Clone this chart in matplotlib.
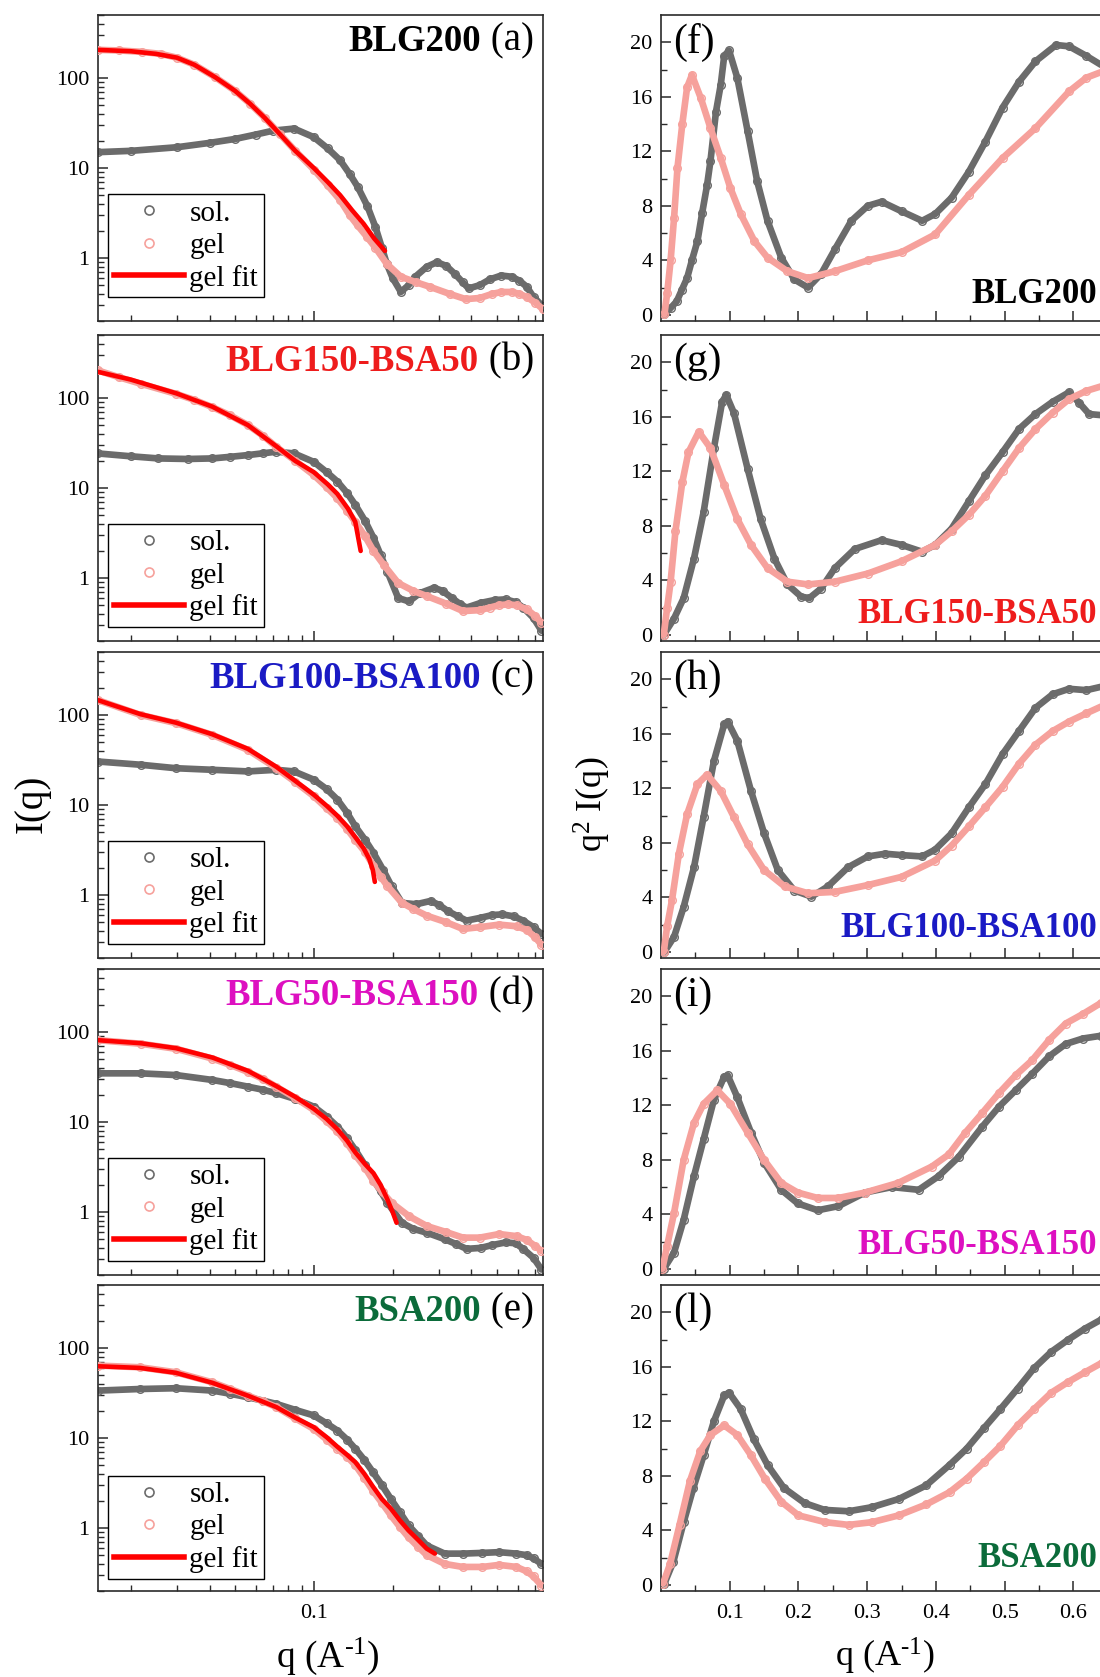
import matplotlib
matplotlib.use('Agg')
import matplotlib.pyplot as plt
from matplotlib.lines import Line2D
from matplotlib.offsetbox import TextArea, HPacker, AnchoredOffsetbox
from matplotlib.ticker import FixedLocator, LogLocator, NullFormatter, FuncFormatter
import matplotlib.transforms as mtrans

plt.rcParams['font.family'] = ['Liberation Serif', 'DejaVu Serif']
plt.rcParams['mathtext.fontset'] = 'custom'
plt.rcParams['mathtext.rm'] = 'Liberation Serif'
plt.rcParams['mathtext.it'] = 'Liberation Serif:italic'
plt.rcParams['mathtext.bf'] = 'Liberation Serif:bold'

# ---------------- labels ----------------
samples = ['BLG200', 'BLG150-BSA50', 'BLG100-BSA100', 'BLG50-BSA150', 'BSA200']
sample_colors = ['#000000', '#ee1c1c', '#1a1ac4', '#dd10c0', '#0b6b3a']
left_letters = ['(a)', '(b)', '(c)', '(d)', '(e)']
right_letters = ['(f)', '(g)', '(h)', '(i)', '(l)']
legend_labels = ['sol.', 'gel', 'gel fit']

# ---------------- left panels: I(q) ----------------
sol_a_q = [0.015, 0.02, 0.03, 0.04, 0.05, 0.06, 0.07, 0.084, 0.1, 0.113, 0.126, 0.137, 0.147, 0.16, 0.172, 0.182, 0.19, 0.2, 0.215, 0.23, 0.244, 0.27, 0.295, 0.32, 0.345, 0.37, 0.39, 0.43, 0.47, 0.52, 0.57, 0.61, 0.65, 0.69, 0.75]
sol_a_I = [15, 15.5, 17, 19, 21, 23.5, 26, 27.4, 22, 16.5, 12.2, 8.6, 6.2, 3.8, 2.2, 1.3, 0.86, 0.6, 0.42, 0.5, 0.62, 0.8, 0.9, 0.82, 0.67, 0.54, 0.46, 0.5, 0.58, 0.64, 0.62, 0.56, 0.48, 0.37, 0.29]
gel_a_q = [0.015, 0.018, 0.022, 0.026, 0.03, 0.035, 0.042, 0.05, 0.057, 0.065, 0.074, 0.085, 0.1, 0.113, 0.126, 0.137, 0.147, 0.16, 0.172, 0.19, 0.215, 0.245, 0.277, 0.33, 0.38, 0.43, 0.48, 0.52, 0.57, 0.61, 0.65, 0.7, 0.75]
gel_a_I = [205, 202, 195, 185, 168, 140, 102, 72, 52, 36, 24, 15.5, 9.6, 6.4, 4.4, 3.0, 2.3, 1.7, 1.3, 0.86, 0.62, 0.54, 0.48, 0.40, 0.35, 0.36, 0.40, 0.42, 0.42, 0.40, 0.37, 0.32, 0.27]
fit_a_q = [0.015, 0.02, 0.025, 0.03, 0.035, 0.042, 0.05, 0.057, 0.065, 0.074, 0.085, 0.1, 0.113, 0.126, 0.14, 0.155, 0.17, 0.187]
fit_a_I = [205, 198, 185, 168, 140, 102, 72, 52, 36, 24, 15.5, 10, 7, 5.0, 3.4, 2.4, 1.65, 1.2]

sol_b_q = [0.015, 0.02, 0.0255, 0.033, 0.041, 0.048, 0.056, 0.064, 0.072, 0.084, 0.1, 0.112, 0.123, 0.134, 0.144, 0.157, 0.169, 0.18, 0.191, 0.21, 0.231, 0.254, 0.288, 0.31, 0.337, 0.36, 0.383, 0.434, 0.49, 0.54, 0.59, 0.63, 0.69, 0.74]
sol_b_I = [24.2, 22.5, 21.3, 21.0, 21.3, 22.2, 23.2, 24.3, 25.3, 24.2, 19.5, 15.0, 11.8, 8.8, 6.5, 4.3, 2.8, 1.8, 1.18, 0.6, 0.55, 0.68, 0.78, 0.72, 0.6, 0.52, 0.47, 0.53, 0.57, 0.58, 0.54, 0.47, 0.36, 0.26]
gel_b_q = [0.015, 0.018, 0.0218, 0.0298, 0.035, 0.041, 0.048, 0.056, 0.064, 0.072, 0.085, 0.1, 0.112, 0.123, 0.134, 0.144, 0.157, 0.169, 0.185, 0.21, 0.24, 0.27, 0.32, 0.371, 0.43, 0.47, 0.51, 0.55, 0.595, 0.65, 0.7, 0.74]
gel_b_I = [202, 170, 144, 111, 95, 79, 64, 50, 38, 28.6, 20, 13.9, 10.2, 7.7, 5.6, 4.2, 2.9, 2.0, 1.4, 0.88, 0.72, 0.63, 0.52, 0.43, 0.44, 0.47, 0.5, 0.51, 0.5, 0.45, 0.38, 0.32]
fit_b_q = [0.015, 0.02, 0.03, 0.041, 0.056, 0.072, 0.085, 0.1, 0.113, 0.123, 0.135, 0.144, 0.151]
fit_b_I = [195, 160, 112, 80, 50, 29, 20, 15, 11, 8.6, 5.9, 4.2, 2.0]

sol_c_q = [0.015, 0.0218, 0.0298, 0.041, 0.056, 0.072, 0.084, 0.1, 0.112, 0.123, 0.134, 0.144, 0.157, 0.169, 0.184, 0.198, 0.217, 0.246, 0.279, 0.3, 0.326, 0.355, 0.383, 0.434, 0.48, 0.525, 0.58, 0.63, 0.69, 0.74]
sol_c_I = [30.4, 28, 25.6, 24.6, 23.6, 24.6, 23.6, 19.1, 15, 11.5, 8.2, 5.8, 4.1, 2.94, 1.9, 1.26, 0.82, 0.79, 0.86, 0.78, 0.66, 0.58, 0.52, 0.56, 0.6, 0.61, 0.58, 0.52, 0.44, 0.37]
gel_c_q = [0.015, 0.0218, 0.0298, 0.041, 0.056, 0.072, 0.085, 0.1, 0.112, 0.123, 0.134, 0.144, 0.157, 0.169, 0.18, 0.191, 0.217, 0.24, 0.27, 0.32, 0.371, 0.43, 0.51, 0.595, 0.65, 0.7, 0.74]
gel_c_I = [146, 100, 81, 60, 41, 25.6, 18, 12.5, 9.2, 7.2, 5.4, 4.1, 3.0, 2.1, 1.6, 1.26, 0.82, 0.7, 0.59, 0.5, 0.42, 0.44, 0.47, 0.45, 0.41, 0.34, 0.28]
fit_c_q = [0.015, 0.0218, 0.0298, 0.041, 0.056, 0.072, 0.085, 0.1, 0.112, 0.123, 0.134, 0.144, 0.155, 0.163, 0.168, 0.171]
fit_c_I = [146, 102, 82, 61, 42, 26.5, 18.5, 13, 9.8, 7.6, 5.8, 4.4, 3.3, 2.5, 1.9, 1.4]

sol_d_q = [0.015, 0.0218, 0.0298, 0.041, 0.048, 0.056, 0.064, 0.072, 0.085, 0.1, 0.112, 0.123, 0.134, 0.144, 0.157, 0.169, 0.18, 0.191, 0.217, 0.24, 0.27, 0.316, 0.35, 0.383, 0.434, 0.48, 0.54, 0.59, 0.63, 0.69, 0.74]
sol_d_I = [34.7, 34.7, 33.2, 29.3, 27, 24.7, 22.8, 20.9, 18, 14.8, 11.5, 8.9, 6.6, 4.9, 3.3, 2.3, 1.7, 1.27, 0.76, 0.65, 0.59, 0.5, 0.44, 0.39, 0.4, 0.43, 0.46, 0.45, 0.39, 0.31, 0.23]
gel_d_q = [0.015, 0.0218, 0.0298, 0.041, 0.048, 0.056, 0.064, 0.072, 0.085, 0.1, 0.112, 0.123, 0.134, 0.144, 0.157, 0.169, 0.183, 0.198, 0.231, 0.27, 0.32, 0.371, 0.43, 0.51, 0.595, 0.65, 0.7, 0.74]
gel_d_I = [81, 74, 65, 50.6, 43, 36, 30, 24.6, 18.5, 13.6, 10.2, 7.9, 5.8, 4.3, 3.1, 2.2, 1.65, 1.27, 0.9, 0.7, 0.6, 0.52, 0.52, 0.57, 0.54, 0.49, 0.42, 0.37]
fit_d_q = [0.015, 0.0218, 0.0298, 0.041, 0.056, 0.072, 0.085, 0.1, 0.112, 0.123, 0.134, 0.144, 0.157, 0.169, 0.18, 0.191, 0.2, 0.207]
fit_d_I = [81, 75, 66, 52, 37, 25, 19, 14, 10.8, 8.3, 6.2, 4.6, 3.4, 2.7, 2.0, 1.38, 1.0, 0.76]

sol_e_q = [0.015, 0.0217, 0.0297, 0.041, 0.048, 0.056, 0.064, 0.072, 0.085, 0.1, 0.112, 0.123, 0.134, 0.144, 0.156, 0.168, 0.182, 0.197, 0.213, 0.23, 0.25, 0.27, 0.316, 0.37, 0.44, 0.51, 0.594, 0.65, 0.69, 0.74]
sol_e_I = [33.6, 35, 35.7, 33.6, 31, 28.3, 26, 23.9, 20.5, 17.8, 14.5, 12.1, 9.6, 7.6, 5.7, 4.2, 3.0, 2.1, 1.5, 1.07, 0.82, 0.64, 0.52, 0.52, 0.53, 0.54, 0.52, 0.5, 0.46, 0.4]
gel_e_q = [0.015, 0.0217, 0.0297, 0.041, 0.048, 0.056, 0.064, 0.072, 0.085, 0.1, 0.112, 0.123, 0.134, 0.144, 0.156, 0.168, 0.182, 0.197, 0.213, 0.23, 0.25, 0.27, 0.316, 0.37, 0.44, 0.51, 0.594, 0.65, 0.69, 0.74]
gel_e_I = [63.7, 61, 53.7, 41.5, 35, 29.6, 25.5, 22, 16.5, 12.6, 9.6, 7.6, 6.2, 5.0, 3.6, 2.6, 1.9, 1.38, 1.03, 0.79, 0.62, 0.5, 0.4, 0.37, 0.37, 0.39, 0.37, 0.33, 0.29, 0.23]
fit_e_q = [0.015, 0.0217, 0.0297, 0.041, 0.056, 0.072, 0.085, 0.1, 0.112, 0.123, 0.134, 0.144, 0.156, 0.168, 0.182, 0.197, 0.213, 0.23, 0.25, 0.27, 0.29]
fit_e_I = [62.6, 60, 53, 41, 29.5, 22, 16.8, 13.2, 10.2, 8.0, 6.5, 5.4, 4.0, 2.9, 2.1, 1.64, 1.22, 0.94, 0.74, 0.59, 0.52]

# ---------------- right panels: q^2 I(q) ----------------
f_sol_q = [0.005, 0.014, 0.023, 0.030, 0.038, 0.045, 0.053, 0.060, 0.067, 0.072, 0.080, 0.087, 0.092, 0.099, 0.111, 0.126, 0.140, 0.155, 0.175, 0.194, 0.214, 0.233, 0.253, 0.277, 0.301, 0.321, 0.350, 0.380, 0.399, 0.423, 0.448, 0.472, 0.497, 0.521, 0.545, 0.575, 0.594, 0.619, 0.645]
f_sol_y = [0.05, 0.5, 1.0, 1.8, 2.7, 4.0, 5.4, 7.5, 9.5, 11.3, 14.9, 16.9, 19.0, 19.4, 17.4, 13.5, 9.8, 6.9, 4.2, 2.6, 2.0, 3.0, 4.8, 6.9, 8.0, 8.3, 7.6, 6.9, 7.4, 8.6, 10.5, 12.7, 15.2, 17.1, 18.6, 19.8, 19.7, 19.0, 18.2]
f_gel_q = [0.005, 0.009, 0.014, 0.019, 0.024, 0.031, 0.038, 0.045, 0.058, 0.072, 0.087, 0.101, 0.116, 0.136, 0.155, 0.184, 0.214, 0.253, 0.301, 0.350, 0.399, 0.448, 0.497, 0.545, 0.594, 0.619, 0.645]
f_gel_y = [0.05, 1.6, 4.0, 7.1, 10.8, 14.0, 16.7, 17.6, 15.9, 13.7, 11.5, 9.3, 7.4, 5.4, 4.2, 3.2, 2.7, 3.2, 4.0, 4.6, 5.9, 8.8, 11.5, 13.7, 16.4, 17.4, 17.9]

g_sol_q = [0.004, 0.019, 0.033, 0.048, 0.062, 0.077, 0.089, 0.095, 0.106, 0.126, 0.145, 0.165, 0.184, 0.204, 0.216, 0.233, 0.253, 0.282, 0.321, 0.350, 0.380, 0.399, 0.423, 0.448, 0.472, 0.497, 0.521, 0.545, 0.570, 0.594, 0.609, 0.623, 0.645]
g_sol_y = [0.0, 1.2, 2.7, 5.6, 9.0, 13.7, 17.1, 17.6, 16.3, 12.2, 8.5, 5.6, 3.7, 2.8, 2.7, 3.4, 4.9, 6.3, 6.95, 6.6, 6.1, 6.6, 7.8, 9.8, 11.7, 13.4, 15.1, 16.2, 17.1, 17.8, 17.0, 16.2, 16.1]
g_gel_q = [0.004, 0.009, 0.014, 0.021, 0.031, 0.040, 0.055, 0.072, 0.092, 0.111, 0.131, 0.155, 0.184, 0.214, 0.253, 0.301, 0.350, 0.399, 0.423, 0.448, 0.472, 0.497, 0.521, 0.545, 0.570, 0.594, 0.619, 0.645]
g_gel_y = [0.0, 2.0, 3.9, 7.6, 11.2, 13.4, 14.9, 13.7, 11.0, 8.5, 6.6, 4.9, 3.9, 3.7, 3.9, 4.5, 5.4, 6.6, 7.6, 8.8, 10.2, 12.0, 13.7, 15.1, 16.3, 17.3, 17.9, 18.3]

h_sol_q = [0.005, 0.019, 0.033, 0.048, 0.062, 0.077, 0.092, 0.097, 0.111, 0.131, 0.150, 0.170, 0.194, 0.219, 0.243, 0.272, 0.301, 0.326, 0.350, 0.380, 0.399, 0.423, 0.448, 0.472, 0.497, 0.521, 0.545, 0.570, 0.594, 0.619, 0.645]
h_sol_y = [0.0, 1.1, 3.3, 6.2, 9.9, 14.0, 16.7, 16.9, 15.5, 11.8, 8.7, 6.0, 4.5, 4.05, 4.8, 6.2, 7.0, 7.2, 7.1, 7.0, 7.5, 8.7, 10.6, 12.3, 14.5, 16.2, 17.9, 18.9, 19.3, 19.2, 19.5]
h_gel_q = [0.004, 0.009, 0.016, 0.026, 0.038, 0.053, 0.067, 0.087, 0.106, 0.126, 0.150, 0.180, 0.214, 0.253, 0.301, 0.350, 0.399, 0.423, 0.448, 0.472, 0.497, 0.521, 0.545, 0.570, 0.594, 0.619, 0.645]
h_gel_y = [0.0, 1.9, 3.8, 7.2, 10.1, 12.3, 13.0, 11.8, 9.9, 7.9, 6.0, 4.8, 4.3, 4.4, 4.9, 5.5, 6.7, 7.8, 9.2, 10.6, 12.1, 13.8, 15.2, 16.2, 16.9, 17.5, 18.1]

i_sol_q = [0.004, 0.019, 0.033, 0.048, 0.062, 0.077, 0.092, 0.097, 0.111, 0.131, 0.150, 0.175, 0.199, 0.228, 0.258, 0.297, 0.336, 0.375, 0.404, 0.433, 0.467, 0.492, 0.516, 0.540, 0.565, 0.589, 0.614, 0.640]
i_sol_y = [0.0, 1.2, 3.6, 6.8, 9.5, 12.4, 14.1, 14.2, 12.6, 10.0, 7.8, 5.8, 4.8, 4.3, 4.6, 5.6, 6.0, 5.8, 6.8, 8.2, 10.4, 11.9, 13.1, 14.3, 15.6, 16.5, 16.9, 17.1]
i_gel_q = [0.002, 0.009, 0.019, 0.033, 0.048, 0.062, 0.082, 0.101, 0.126, 0.150, 0.175, 0.199, 0.228, 0.258, 0.297, 0.345, 0.394, 0.419, 0.443, 0.467, 0.492, 0.516, 0.540, 0.565, 0.589, 0.614, 0.640]
i_gel_y = [0.0, 1.7, 4.1, 8.0, 10.7, 12.1, 13.1, 12.1, 10.0, 8.0, 6.3, 5.6, 5.2, 5.2, 5.6, 6.3, 7.5, 8.4, 10.0, 11.4, 12.9, 14.2, 15.3, 16.8, 18.0, 18.7, 19.5]

l_sol_q = [0.005, 0.018, 0.033, 0.047, 0.062, 0.077, 0.092, 0.099, 0.116, 0.135, 0.155, 0.179, 0.209, 0.238, 0.273, 0.307, 0.346, 0.386, 0.420, 0.445, 0.470, 0.494, 0.519, 0.543, 0.568, 0.593, 0.617, 0.642]
l_sol_y = [0.1, 1.7, 4.6, 7.1, 9.5, 12.0, 13.9, 14.1, 12.9, 10.7, 8.8, 7.1, 6.0, 5.5, 5.4, 5.7, 6.3, 7.3, 8.8, 10.0, 11.5, 12.9, 14.4, 15.9, 17.1, 18.0, 18.8, 19.5]
l_gel_q = [0.003, 0.013, 0.027, 0.042, 0.057, 0.072, 0.092, 0.111, 0.131, 0.151, 0.175, 0.200, 0.239, 0.273, 0.307, 0.346, 0.386, 0.420, 0.445, 0.470, 0.494, 0.519, 0.543, 0.568, 0.593, 0.617, 0.642]
l_gel_y = [0.1, 1.5, 4.4, 7.6, 9.8, 11.0, 11.7, 11.0, 9.5, 7.8, 6.1, 5.1, 4.6, 4.4, 4.6, 5.1, 5.9, 6.8, 7.8, 9.0, 10.2, 11.7, 12.9, 14.1, 14.9, 15.6, 16.3]

left_tick_labels_y = [1, 10, 100]
left_tick_labels_x = [0.1]
right_ticks_x = [0.1, 0.2, 0.3, 0.4, 0.5, 0.6, 0.7]
right_tick_text_x = ['0.1', '0.2', '0.3', '0.4', '0.5', '0.6', '']
right_ticks_y = [0, 4, 8, 12, 16, 20]

left_sets = [
    (sol_a_q, sol_a_I, gel_a_q, gel_a_I, fit_a_q, fit_a_I),
    (sol_b_q, sol_b_I, gel_b_q, gel_b_I, fit_b_q, fit_b_I),
    (sol_c_q, sol_c_I, gel_c_q, gel_c_I, fit_c_q, fit_c_I),
    (sol_d_q, sol_d_I, gel_d_q, gel_d_I, fit_d_q, fit_d_I),
    (sol_e_q, sol_e_I, gel_e_q, gel_e_I, fit_e_q, fit_e_I),
]
right_sets = [
    (f_sol_q, f_sol_y, f_gel_q, f_gel_y),
    (g_sol_q, g_sol_y, g_gel_q, g_gel_y),
    (h_sol_q, h_sol_y, h_gel_q, h_gel_y),
    (i_sol_q, i_sol_y, i_gel_q, i_gel_y),
    (l_sol_q, l_sol_y, l_gel_q, l_gel_y),
]

SOL_C = '#6b6b6b'
GEL_C = '#f6a19c'
FIT_C = '#ff0000'
SPINE_C = '#2a2a2a'

W, H = 1100, 1677
fig = plt.figure(figsize=(W / 100, H / 100), dpi=100)
tops = [15, 335, 652, 969, 1285]
PH = 306
leg_anchor_y = [0.077, 0.045, 0.045, 0.045, 0.04]
name_base_y = [0.06, 0.06, 0.07, 0.07, 0.077]


def style_axes(ax):
    for s in ax.spines.values():
        s.set_linewidth(1.2)
        s.set_color(SPINE_C)
    ax.tick_params(which='both', direction='in', top=False, right=False,
                   color=SPINE_C, labelsize=16)
    ax.tick_params(which='major', length=7, width=1.1, pad=6)
    ax.tick_params(which='minor', length=4, width=1.0)
    ax.tick_params(axis='x', which='major', pad=9)


def band(ax, q, y, color, z):
    ax.plot(q, y, color=color, lw=4.8, marker='o', ms=5.5, mfc='none',
            mec=color, mew=1.0, zorder=z, solid_capstyle='round',
            solid_joinstyle='round')


for i in range(5):
    b = 1 - (tops[i] + PH) / H
    axL = fig.add_axes([98 / W, b, 445 / W, PH / H])
    axR = fig.add_axes([661 / W, b, 481 / W, PH / H])

    # ---- left ----
    sq, sI, gq, gI, fq, fI = left_sets[i]
    band(axL, sq, sI, SOL_C, 2)
    band(axL, gq, gI, GEL_C, 3)
    axL.plot(fq, fI, color=FIT_C, lw=3.3, zorder=4, solid_capstyle='round')
    axL.set_xscale('log')
    axL.set_yscale('log')
    axL.set_xlim(0.015, 0.75)
    axL.set_ylim(0.2, 500)
    axL.xaxis.set_major_locator(FixedLocator(left_tick_labels_x))
    axL.xaxis.set_minor_locator(LogLocator(base=10, subs=range(2, 10), numticks=20))
    axL.yaxis.set_major_locator(FixedLocator(left_tick_labels_y))
    axL.yaxis.set_minor_locator(LogLocator(base=10, subs=range(2, 10), numticks=20))
    axL.yaxis.set_major_formatter(FuncFormatter(lambda v, p: f'{v:g}'))
    axL.yaxis.set_minor_formatter(NullFormatter())
    axL.xaxis.set_minor_formatter(NullFormatter())
    if i == 4:
        axL.xaxis.set_major_formatter(FuncFormatter(lambda v, p: f'{v:g}'))
    else:
        axL.xaxis.set_major_formatter(NullFormatter())
    style_axes(axL)

    handles = [Line2D([], [], ls='none', marker='o', ms=6.5, mfc='none', mec=SOL_C, mew=1.2),
               Line2D([], [], ls='none', marker='o', ms=6.5, mfc='none', mec=GEL_C, mew=1.2),
               Line2D([], [], color=FIT_C, lw=4)]
    leg = axL.legend(handles, legend_labels, loc='lower left',
                     bbox_to_anchor=(0.022, leg_anchor_y[i]), borderaxespad=0,
                     fontsize=21, frameon=True, fancybox=False, edgecolor='black',
                     framealpha=1, handlelength=2.4, handletextpad=0.2,
                     labelspacing=0.2, borderpad=0.2)
    leg.get_frame().set_linewidth(1.0)

    ta1 = TextArea(samples[i], textprops=dict(color=sample_colors[i], fontsize=26.5,
                                              fontweight='bold'))
    ta2 = TextArea(' ' + left_letters[i], textprops=dict(color='black', fontsize=28))
    box = HPacker(children=[ta1, ta2], align='baseline', pad=0, sep=0)
    anch = AnchoredOffsetbox(loc='upper right', child=box, pad=0, frameon=False,
                             bbox_to_anchor=(0.98, 0.975),
                             bbox_transform=axL.transAxes, borderpad=0)
    axL.add_artist(anch)

    # ---- right ----
    sq, sy, gq, gy = right_sets[i]
    band(axR, sq, sy, SOL_C, 2)
    band(axR, gq, gy, GEL_C, 3)
    axR.set_xlim(0, 0.7)
    axR.set_ylim(-0.45, 22)
    axR.xaxis.set_major_locator(FixedLocator(right_ticks_x))
    axR.xaxis.set_minor_locator(FixedLocator([t - 0.05 for t in right_ticks_x]))
    axR.yaxis.set_major_locator(FixedLocator(right_ticks_y))
    axR.yaxis.set_minor_locator(FixedLocator([t + 2 for t in right_ticks_y[:-1]]))
    axR.yaxis.set_major_formatter(FuncFormatter(lambda v, p: f'{v:g}'))
    if i == 4:
        axR.set_xticklabels(right_tick_text_x)
    else:
        axR.xaxis.set_major_formatter(NullFormatter())
    style_axes(axR)
    axR.text(0.026, 0.975, right_letters[i], transform=axR.transAxes,
             ha='left', va='top', fontsize=30, color='black')
    tr = mtrans.blended_transform_factory(fig.transFigure, axR.transAxes)
    axR.text(1097 / W, name_base_y[i], samples[i], transform=tr, ha='right',
             va='baseline', fontsize=25, fontweight='bold', color=sample_colors[i])

# axis titles
fig.text(32 / W, 1 - 804 / H, 'I(q)', rotation=90, ha='center', va='center', fontsize=28)
fig.text(592 / W, 1 - 804 / H, 'q$^2$ I(q)', rotation=90, ha='center', va='center', fontsize=26)
fig.text(328 / W, 1 - 1656 / H, r'q (A$^{\text{-1}}$)', ha='center', va='center', fontsize=27)
fig.text(885 / W, 1 - 1656 / H, r'q (A$^{\text{-1}}$)', ha='center', va='center', fontsize=26)

fig.savefig('out.png', dpi=100)
